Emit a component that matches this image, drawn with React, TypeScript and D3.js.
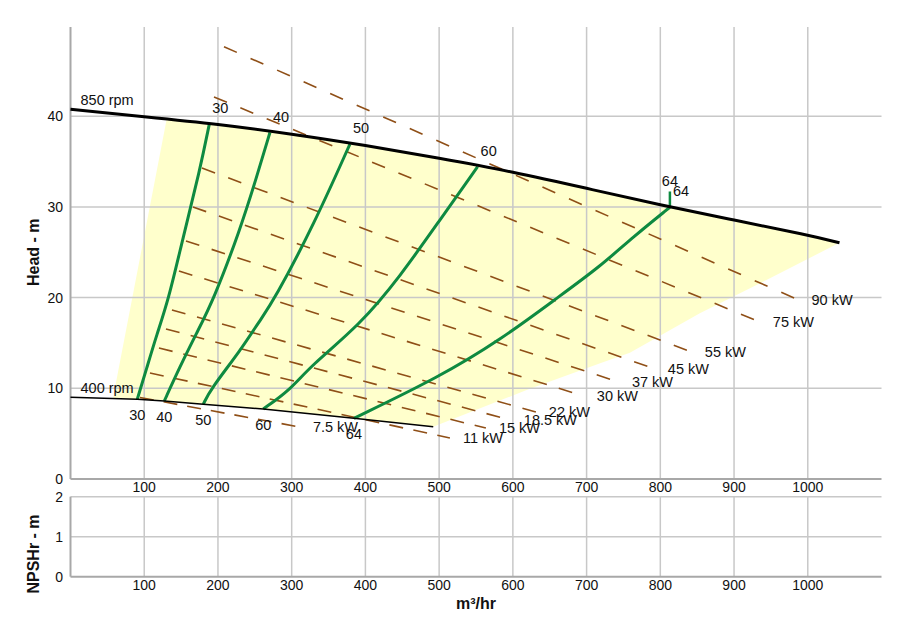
import React from 'react';
import * as d3 from 'd3';

type Pt = [number, number];

// ---------- axis ticks ----------
const flowTicks = [100, 200, 300, 400, 500, 600, 700, 800, 900, 1000];
const headTicks = [0, 10, 20, 30, 40];
const npshTicks = [0, 1, 2];

// ---------- speed curves (Q m³/hr, H m) ----------
const speedLabels = ['850 rpm', '400 rpm'];
const curve850: Pt[] = [[0, 40.76], [100, 39.95], [200, 39.14], [300, 38.04], [400, 36.8], [500, 35.36], [600, 33.88], [700, 32.05], [800, 30.2], [900, 28.56], [1000, 26.9], [1043, 26.05]];
const curve400: Pt[] = [[0, 9.02], [90.6, 8.8], [127.2, 8.6], [180.1, 8.24], [261.4, 7.72], [384.4, 6.69], [492, 5.77]];

// ---------- operating region boundaries ----------
const regionLeft: Pt[] = [[130.5, 39.7], [57.6, 8.9]];
const regionRight: Pt[] = [[1043, 26.05], [944, 21.94], [853.6, 18.27], [758.7, 13.93], [718.4, 12.76], [618.6, 9.8], [492, 5.77]];

// ---------- efficiency curves (%) ----------
const effLabels = ['30', '40', '50', '60', '64'];
const eff30: Pt[] = [[90.6, 8.8], [103.3, 12.2], [116.9, 15.9], [132.7, 19.7], [152, 26.4], [175.6, 34.1], [188.2, 39.1]];
const eff40: Pt[] = [[127.2, 8.6], [148.5, 12.4], [171.1, 16.1], [193.7, 19.7], [229.9, 27.45], [252.5, 33.3], [270.5, 38.2]];
const eff50: Pt[] = [[180.1, 8.24], [190, 9.9], [229.9, 14.1], [257, 17.5], [276, 19.7], [331, 28.2], [379, 36.93]];
const eff60: Pt[] = [[261.4, 7.72], [297.7, 9.8], [324.7, 12.4], [392.6, 17], [446.8, 22.3], [501, 28.56], [552.2, 34.43]];
const eff64: Pt[] = [[384.4, 6.69], [501, 11.28], [582.4, 15.3], [659.3, 19.92], [718, 23.4], [763.2, 26.7], [813, 29.96]];
const effCurves = [eff30, eff40, eff50, eff60, eff64];
const bepMarker: Pt[] = [[813, 29.96], [813, 31.7]];
const bepLabel = '64';

// ---------- power lines (kW) ----------
const powerLabels = ['7.5 kW', '11 kW', '15 kW', '18.5 kW', '22 kW', '30 kW', '37 kW', '45 kW', '55 kW', '75 kW', '90 kW'];
const powerStart: Pt[] = [[94.2, 8.99], [107.8, 11.69], [120, 14.44], [129.5, 16.54], [137.6, 18.63], [147.1, 22.93], [156.6, 26.24], [166.1, 29.99], [178.3, 34.29], [194.6, 42.12], [208.2, 47.66]];
const powerEnd: Pt[] = [[311.2, 5.73], [514.6, 4.52], [563.4, 5.62], [597.3, 6.5], [631.2, 7.39], [696.3, 9.15], [743.8, 10.69], [792.6, 12.13], [842.8, 14.0], [935, 17.31], [987.5, 19.74]];

// ---------- titles ----------
const headTitle = 'Head - m';
const npshTitle = 'NPSHr - m';
const flowTitle = 'm³/hr';

const FONT = "Arial, 'Liberation Sans', sans-serif";
const GRID = '#c8c8c8';
const AXIS = '#a8a8a8';
const GREEN = '#0e8a40';
const BROWN = '#8f4f17';
const FILL = '#ffffcc';

export default function App() {
  const x = d3.scaleLinear().domain([0, 1100]).range([70.5, 881.5]);
  const y = d3.scaleLinear().domain([0, 50]).range([479, 25.5]);
  const yN = d3.scaleLinear().domain([0, 2]).range([576.7, 496.7]);

  const lin = d3.line<Pt>().x(d => x(d[0])).y(d => y(d[1]));
  const smooth = d3.line<Pt>().x(d => x(d[0])).y(d => y(d[1])).curve(d3.curveBasis);

  const q0 = regionLeft[0][0];
  const q1 = regionLeft[1][0];
  const qEnd400 = regionRight[regionRight.length - 1][0];
  const regionPts: Pt[] = [
    regionLeft[0],
    ...curve850.filter(p => p[0] > q0),
    ...regionRight.slice(1),
    ...curve400.filter(p => p[0] < qEnd400 && p[0] > q1).reverse(),
    regionLeft[1],
  ];

  const xl = x.range();
  const [hBot, hTop] = y.range();
  const [nBot, nTop] = yN.range();

  return (
    <svg width={909} height={622} style={{ position: 'absolute', left: 0, top: 0, background: '#fff' }} fontFamily={FONT}>
      {/* operating region */}
      <path d={smooth(regionPts.slice(0, curve850.filter(p => p[0] > q0).length + 1)) + 'L' + regionPts.slice(curve850.filter(p => p[0] > q0).length + 1).map(p => `${x(p[0])},${y(p[1])}`).join('L') + 'Z'} fill={FILL} stroke="none" />

      {/* head grid */}
      {headTicks.filter(t => t > 0).map(t => (
        <line key={'hg' + t} x1={xl[0]} x2={xl[1]} y1={y(t)} y2={y(t)} stroke={GRID} strokeWidth={1.5} />
      ))}
      {flowTicks.map(t => (
        <line key={'vg' + t} x1={x(t)} x2={x(t)} y1={hTop + 1.5} y2={hBot} stroke={GRID} strokeWidth={1.5} />
      ))}
      <line x1={xl[0]} x2={xl[0]} y1={hTop + 1.5} y2={hBot} stroke={AXIS} strokeWidth={2} />
      <line x1={xl[0]} x2={xl[1]} y1={hBot} y2={hBot} stroke={AXIS} strokeWidth={2} />

      {/* npsh grid */}
      {npshTicks.filter(t => t > 0).map(t => (
        <line key={'ng' + t} x1={xl[0]} x2={xl[1]} y1={yN(t)} y2={yN(t)} stroke={GRID} strokeWidth={1.5} />
      ))}
      {flowTicks.map(t => (
        <line key={'nv' + t} x1={x(t)} x2={x(t)} y1={nTop} y2={nBot} stroke={GRID} strokeWidth={1.5} />
      ))}
      <line x1={xl[0]} x2={xl[0]} y1={nTop} y2={nBot} stroke={AXIS} strokeWidth={2} />
      <line x1={xl[0]} x2={xl[1]} y1={nBot} y2={nBot} stroke={AXIS} strokeWidth={2} />

      {/* power lines */}
      {powerLabels.map((lab, i) => {
        const s = powerStart[i];
        const e = powerEnd[i];
        const gap = 10 + i * 0.5;
        return (
          <g key={'pw' + i}>
            <line x1={x(s[0])} y1={y(s[1])} x2={x(e[0])} y2={y(e[1])} stroke={BROWN} strokeWidth={1.6} strokeDasharray={`14,${gap}`} />
            <text x={x(e[0]) + 13} y={y(e[1])} dy="0.35em" fontSize={14.5} fill="#111">{lab}</text>
          </g>
        );
      })}

      {/* efficiency curves */}
      {effCurves.map((c, i) => (
        <path key={'ef' + i} d={smooth(c) || ''} fill="none" stroke={GREEN} strokeWidth={3} />
      ))}
      <path d={lin(bepMarker) || ''} fill="none" stroke={GREEN} strokeWidth={2.5} />

      {/* speed curves */}
      <path d={smooth(curve850) || ''} fill="none" stroke="#000" strokeWidth={3} />
      <path d={lin(curve400) || ''} fill="none" stroke="#000" strokeWidth={1.5} />
      <text x={x(curve850[0][0]) + 10} y={y(curve850[0][1]) - 9} dy="0.35em" fontSize={14.5} fill="#111">{speedLabels[0]}</text>
      <text x={x(curve400[0][0]) + 10} y={y(curve400[0][1]) - 9.5} dy="0.35em" fontSize={14.5} fill="#111">{speedLabels[1]}</text>

      {/* efficiency labels */}
      {effCurves.map((c, i) => {
        const top = c[c.length - 1];
        const bot = c[0];
        return (
          <g key={'el' + i}>
            <text x={x(top[0]) + 3} y={y(top[1]) - 16} dy="0.35em" fontSize={14.5} fill="#111">{effLabels[i]}</text>
            <text x={x(bot[0])} y={y(bot[1]) + 16} dy="0.35em" fontSize={14.5} fill="#111" textAnchor="middle">{effLabels[i]}</text>
          </g>
        );
      })}
      <text x={x(bepMarker[1][0])} y={y(bepMarker[1][1]) - 10.5} dy="0.35em" fontSize={14.5} fill="#111" textAnchor="middle">{bepLabel}</text>

      {/* tick labels */}
      {headTicks.map(t => (
        <text key={'hl' + t} x={63} y={y(t)} dy="0.35em" fontSize={14} textAnchor="end" fill="#111">{t}</text>
      ))}
      {npshTicks.map(t => (
        <text key={'nl' + t} x={63} y={yN(t)} dy="0.35em" fontSize={14} textAnchor="end" fill="#111">{t}</text>
      ))}
      {flowTicks.map(t => (
        <text key={'fl' + t} x={x(t)} y={hBot + 8} dy="0.35em" fontSize={14} textAnchor="middle" fill="#111">{t}</text>
      ))}
      {flowTicks.map(t => (
        <text key={'fn' + t} x={x(t)} y={nBot + 8.5} dy="0.35em" fontSize={14} textAnchor="middle" fill="#111">{t}</text>
      ))}

      {/* titles */}
      <text transform={`translate(33,${(hTop + hBot) / 2}) rotate(-90)`} textAnchor="middle" dy="0.35em" fontSize={16} fontWeight="bold" fill="#111">{headTitle}</text>
      <text transform={`translate(33,554) rotate(-90)`} textAnchor="middle" dy="0.35em" fontSize={16} fontWeight="bold" fill="#111">{npshTitle}</text>
      <text x={(xl[0] + xl[1]) / 2} y={603} dy="0.35em" textAnchor="middle" fontSize={16} fontWeight="bold" fill="#111">{flowTitle}</text>
    </svg>
  );
}
